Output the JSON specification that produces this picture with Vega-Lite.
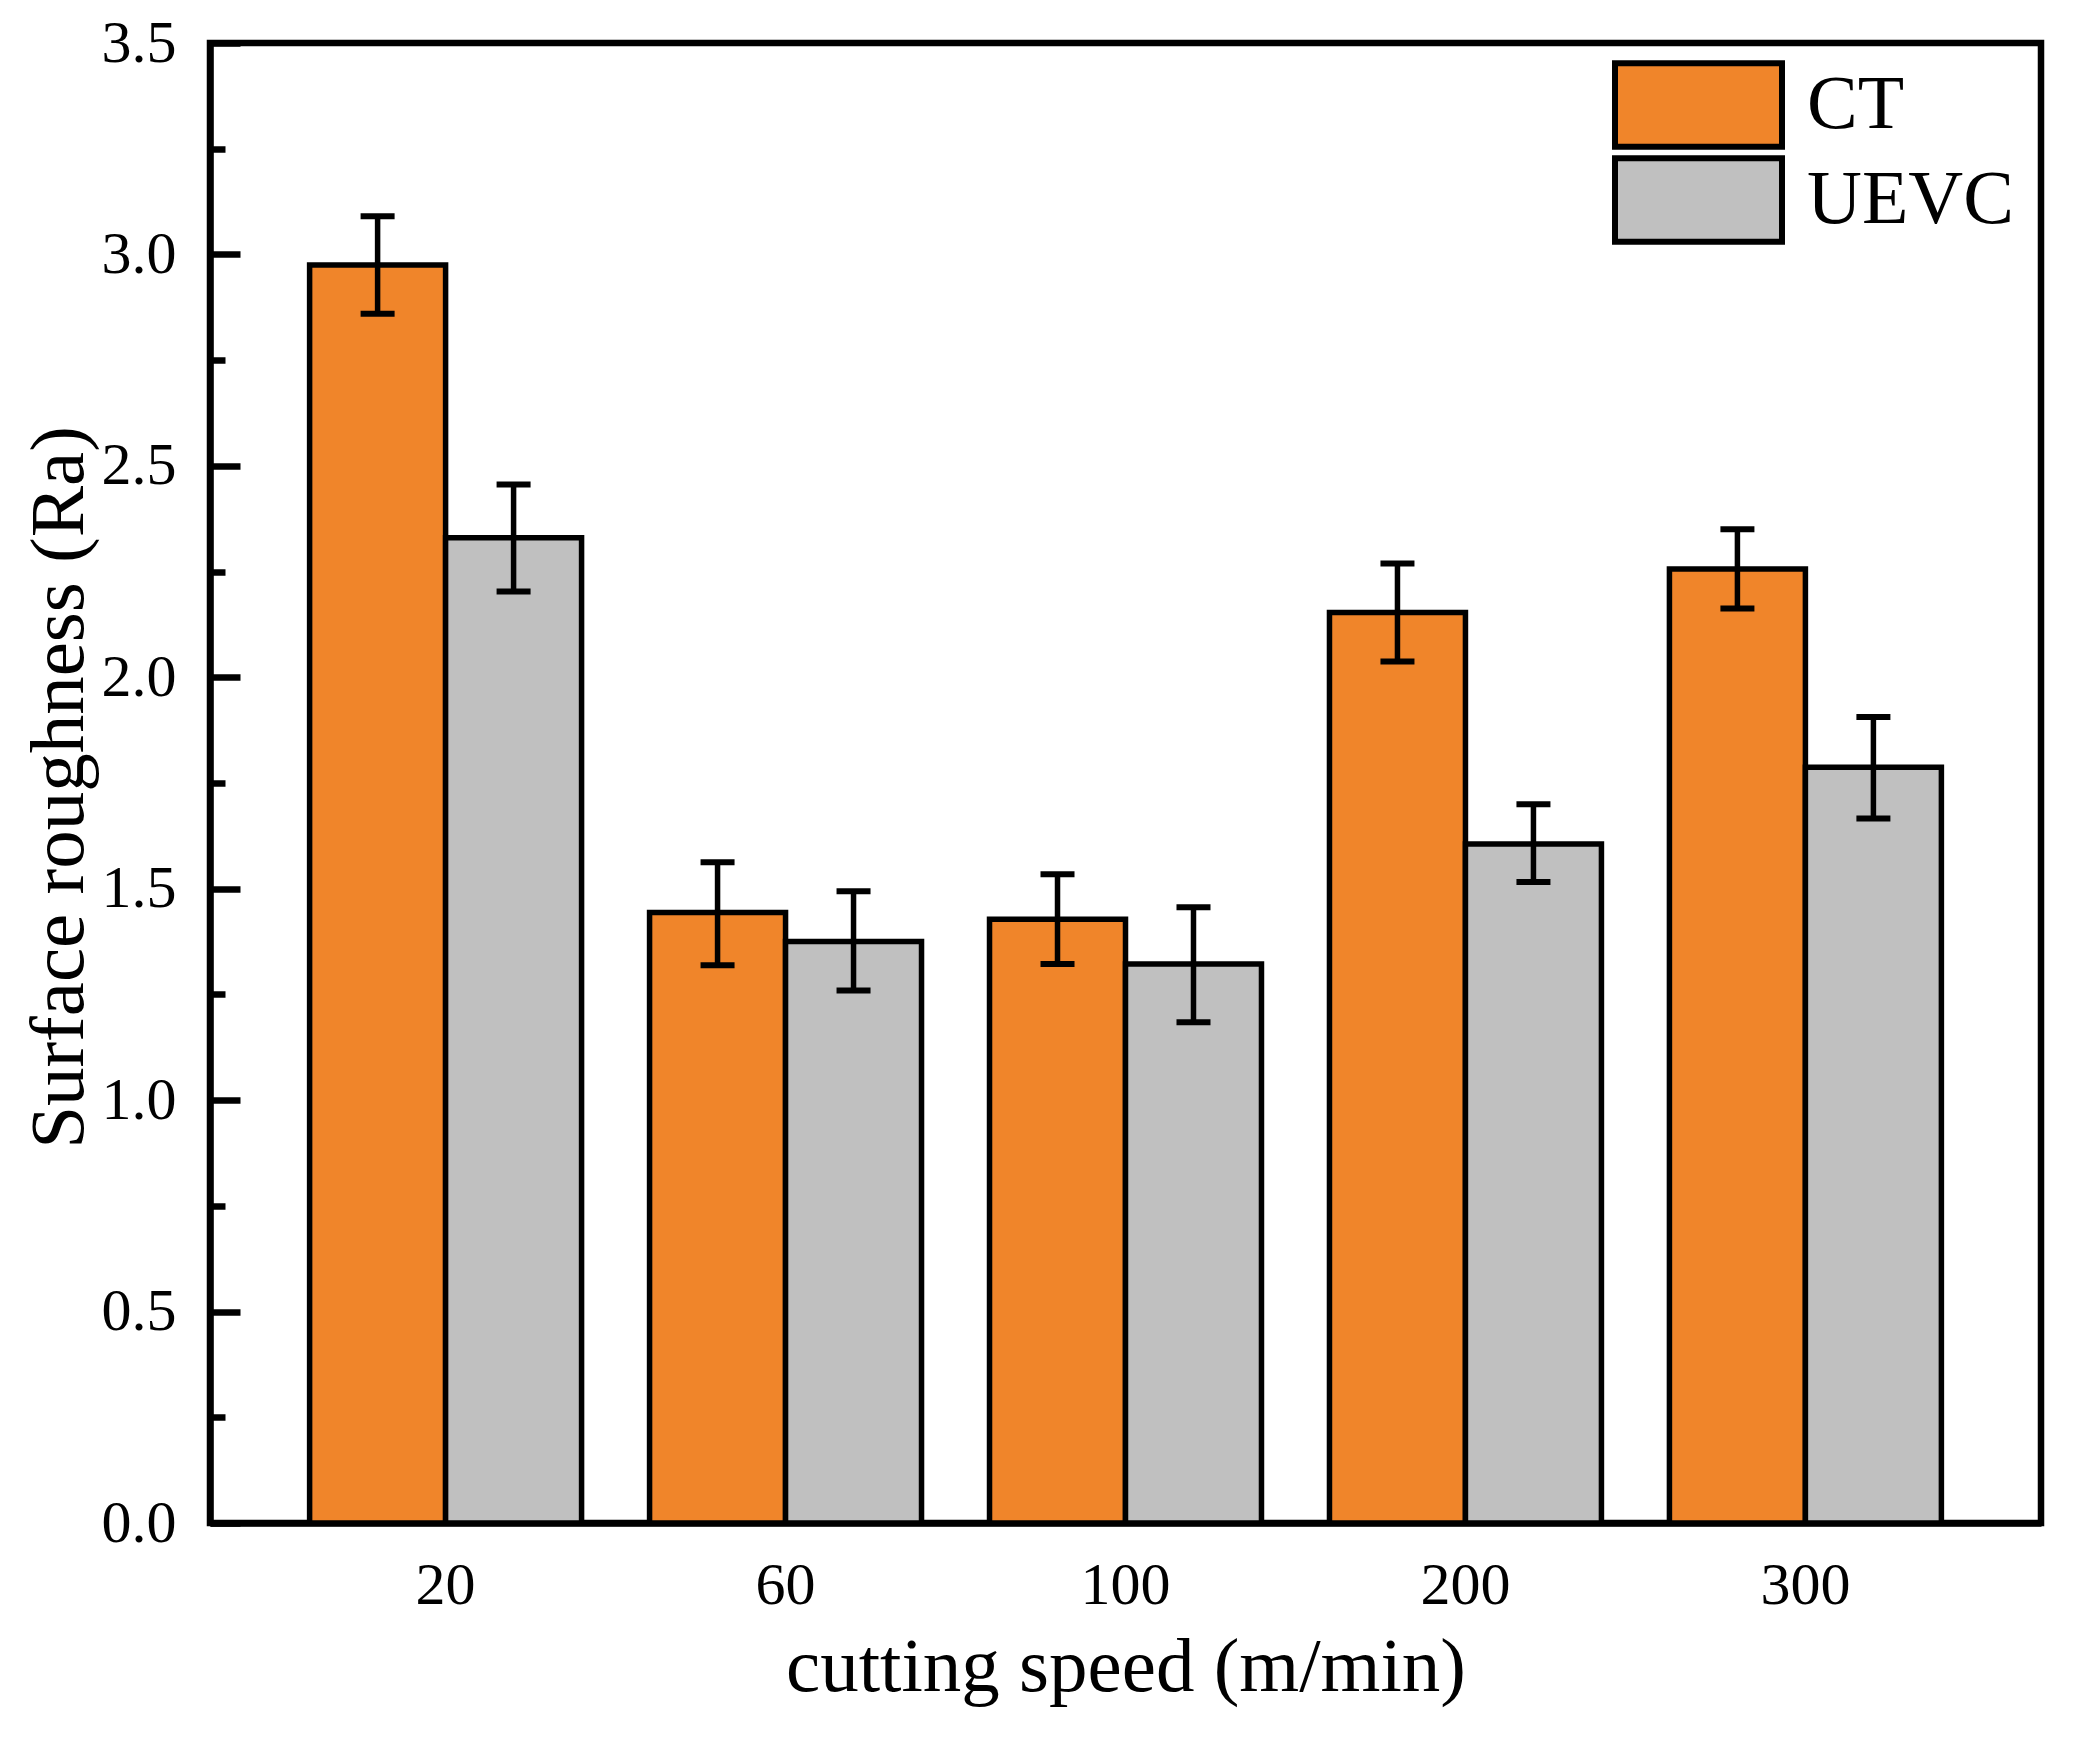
{
  "$schema": "https://vega.github.io/schema/vega-lite/v6.json",
  "width": 1831,
  "height": 1480,
  "autosize": {"type": "none"},
  "padding": {"left": 210, "top": 43, "right": 32, "bottom": 215},
  "background": "white",
  "config": {
    "view": {"stroke": "black", "strokeWidth": 6.5},
    "axis": {
      "grid": false,
      "domainColor": "black",
      "domainWidth": 6.5,
      "tickColor": "black",
      "tickWidth": 6.5,
      "labelFont": "Liberation Serif",
      "labelFontSize": 60,
      "labelColor": "black",
      "titleFont": "Liberation Serif",
      "titleFontSize": 77,
      "titleFontWeight": "normal",
      "titleColor": "black"
    },
    "legend": {
      "labelFont": "Liberation Serif",
      "labelFontSize": 76,
      "labelColor": "black",
      "labelLimit": 0
    }
  },
  "data": {
    "values": [
      {"speed": "20", "method": "CT", "value": 2.975, "lo": 2.86, "hi": 3.09},
      {"speed": "20", "method": "UEVC", "value": 2.33, "lo": 2.203, "hi": 2.456},
      {"speed": "60", "method": "CT", "value": 1.444, "lo": 1.319, "hi": 1.5625},
      {"speed": "60", "method": "UEVC", "value": 1.375, "lo": 1.259, "hi": 1.494},
      {"speed": "100", "method": "CT", "value": 1.428, "lo": 1.322, "hi": 1.534},
      {"speed": "100", "method": "UEVC", "value": 1.322, "lo": 1.184, "hi": 1.456},
      {"speed": "200", "method": "CT", "value": 2.153, "lo": 2.0375, "hi": 2.269},
      {"speed": "200", "method": "UEVC", "value": 1.606, "lo": 1.516, "hi": 1.7},
      {"speed": "300", "method": "CT", "value": 2.256, "lo": 2.1625, "hi": 2.35},
      {"speed": "300", "method": "UEVC", "value": 1.7875, "lo": 1.666, "hi": 1.906}
    ]
  },
  "encoding": {
    "x": {
      "field": "speed",
      "type": "nominal",
      "sort": ["20", "60", "100", "200", "300"],
      "scale": {"paddingInner": 0.2, "paddingOuter": 0.293},
      "axis": {
        "title": "cutting speed (m/min)",
        "labelAngle": 0,
        "ticks": false,
        "labelBaseline": "alphabetic",
        "labelPadding": 80,
        "titleBaseline": "alphabetic",
        "titleY": 167
      }
    },
    "xOffset": {
      "field": "method",
      "type": "nominal",
      "sort": ["CT", "UEVC"],
      "scale": {"paddingInner": 0, "paddingOuter": 0}
    }
  },
  "layer": [
    {
      "mark": {"type": "bar", "stroke": "black", "strokeWidth": 5.5},
      "encoding": {
        "y": {
          "field": "value",
          "type": "quantitative",
          "scale": {"domain": [0, 3.5], "nice": false},
          "axis": {
            "orient": "left",
            "title": "Surface roughness (Ra)",
            "values": [0, 0.5, 1, 1.5, 2, 2.5, 3, 3.5],
            "format": ".1f",
            "tickSize": -30,
            "labelPadding": 64,
            "titleBaseline": "alphabetic",
            "titleX": -128,
            "titleY": 744
          }
        },
        "color": {
          "field": "method",
          "type": "nominal",
          "sort": ["CT", "UEVC"],
          "scale": {"domain": ["CT", "UEVC"], "range": ["#F0852A", "#C0C0C0"]},
          "legend": {
            "title": null,
            "orient": "none",
            "legendX": 1402,
            "legendY": 17,
            "clipHeight": 90,
            "symbolType": "M-1,-0.5H1V0.5H-1Z",
            "symbolSize": 27889,
            "symbolStrokeColor": "black",
            "symbolStrokeWidth": 6,
            "symbolOpacity": 1,
            "labelOffset": 22,
            "rowPadding": 5
          }
        }
      }
    },
    {
      "mark": {"type": "rule", "color": "black", "strokeWidth": 5.5, "opacity": 1},
      "encoding": {
        "y": {
          "field": "lo",
          "type": "quantitative",
          "axis": {
            "orient": "left",
            "title": null,
            "labels": false,
            "domain": false,
            "values": [0.25, 0.75, 1.25, 1.75, 2.25, 2.75, 3.25],
            "tickSize": -15
          }
        },
        "y2": {"field": "hi"}
      }
    },
    {
      "mark": {"type": "tick", "color": "black", "thickness": 6, "size": 34, "opacity": 1},
      "encoding": {
        "y": {"field": "hi", "type": "quantitative", "axis": null}
      }
    },
    {
      "mark": {"type": "tick", "color": "black", "thickness": 6, "size": 34, "opacity": 1},
      "encoding": {
        "y": {"field": "lo", "type": "quantitative", "axis": null}
      }
    }
  ],
  "resolve": {"axis": {"y": "independent"}}
}
